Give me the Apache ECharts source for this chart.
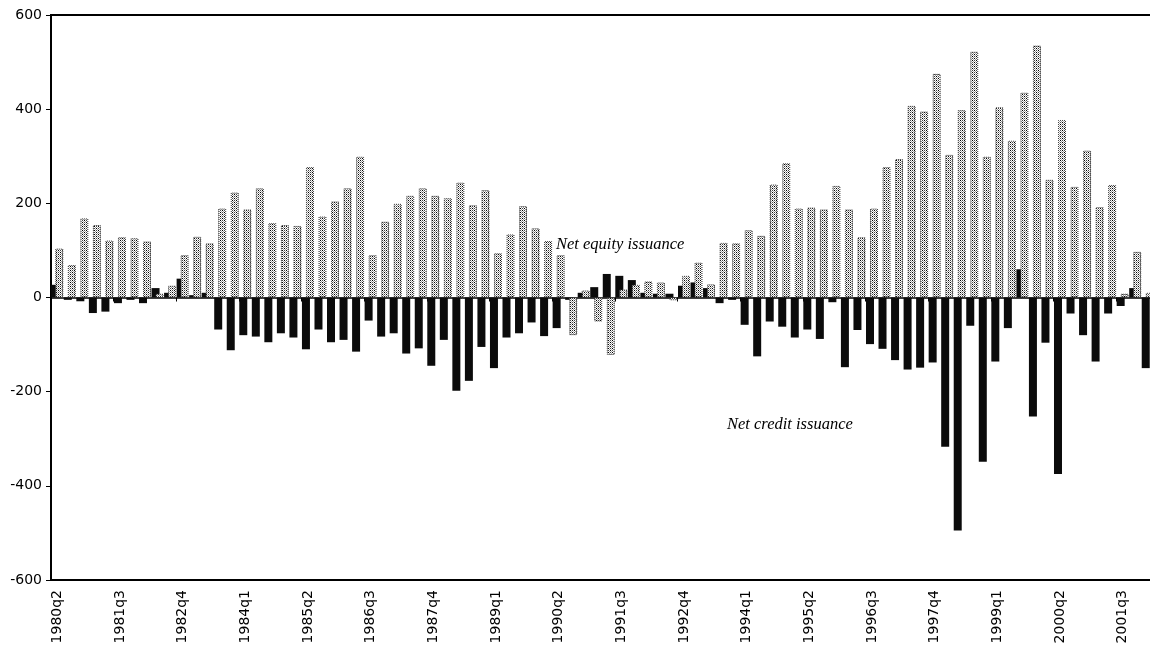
<!DOCTYPE html>
<html>
<head>
<meta charset="utf-8">
<script src="https://cdn.jsdelivr.net/npm/echarts@6/dist/echarts.min.js"></script>
<style>
html,body{margin:0;padding:0;background:#fff;overflow:hidden}
#chart{width:1150px;height:647px}
</style>
</head>
<body>
<div id="chart"></div>
<script>
// Quarters (categories)
const quarters = [
 '1980q2','1980q3','1980q4','1981q1','1981q2','1981q3','1981q4','1982q1','1982q2','1982q3','1982q4',
 '1983q1','1983q2','1983q3','1983q4','1984q1','1984q2','1984q3','1984q4','1985q1','1985q2','1985q3','1985q4',
 '1986q1','1986q2','1986q3','1986q4','1987q1','1987q2','1987q3','1987q4','1988q1','1988q2','1988q3','1988q4',
 '1989q1','1989q2','1989q3','1989q4','1990q1','1990q2','1990q3','1990q4','1991q1','1991q2','1991q3','1991q4',
 '1992q1','1992q2','1992q3','1992q4','1993q1','1993q2','1993q3','1993q4','1994q1','1994q2','1994q3','1994q4',
 '1995q1','1995q2','1995q3','1995q4','1996q1','1996q2','1996q3','1996q4','1997q1','1997q2','1997q3','1997q4',
 '1998q1','1998q2','1998q3','1998q4','1999q1','1999q2','1999q3','1999q4','2000q1','2000q2','2000q3','2000q4',
 '2001q1','2001q2','2001q3','2001q4','2002q1'
];

// Net credit issuance (black bars)
const netCredit = [
 27,-5,-8,-33,-30,-12,-5,-12,20,10,40,
 5,10,-68,-112,-80,-83,-95,-76,-85,-110,-68,-95,
 -90,-115,-49,-83,-76,-119,-108,-145,-90,-198,-177,-105,
 -150,-85,-76,-53,-82,-65,-5,10,22,50,46,37,
 10,8,8,25,32,20,-12,-5,-58,-125,-51,-62,
 -85,-68,-88,-10,-148,-69,-99,-109,-133,-153,-149,-138,
 -317,-495,-60,-349,-136,-65,60,-253,-96,-375,-34,-80,
 -136,-34,-18,20,-150
];

// Net equity issuance (grey dotted bars)
const netEquity = [
 104,69,168,154,121,128,126,119,8,25,90,
 129,115,189,223,187,232,158,154,152,277,172,204,
 232,299,90,161,199,216,232,216,211,244,196,228,
 94,134,194,147,120,90,-80,15,-51,-122,17,27,
 34,32,-6,46,74,28,116,115,143,131,240,285,
 189,191,187,237,187,128,189,277,294,407,395,475,
 303,398,522,299,404,333,435,535,250,377,235,312,
 192,239,8,97,10
];

// Value axis ticks
const yMin = -600, yMax = 600, yStep = 200;

// Annotation texts
const labelEquity = 'Net equity issuance';
const labelCredit = 'Net credit issuance';

function makeDotPattern() {
  const c = document.createElement('canvas');
  c.width = 4; c.height = 4;
  const g = c.getContext('2d');
  g.fillStyle = '#ffffff';
  g.fillRect(0, 0, 4, 4);
  const dots = [
    [0,0,'#000'],[2,2,'#000'],
    [2,0,'#444'],[0,2,'#444'],
    [1,1,'#999'],[3,3,'#999'],[1,3,'#aaa'],[3,1,'#aaa']
  ];
  dots.forEach(d => { g.fillStyle = d[2]; g.fillRect(d[0], d[1], 1, 1); });
  return c;
}

const chart = echarts.init(document.getElementById('chart'), null, {renderer: 'canvas'});
const axisFont = 'DejaVu Sans';

chart.setOption({
  animation: false,
  backgroundColor: '#ffffff',
  grid: {
    left: 51, top: 15, width: 1103, height: 565,
    containLabel: false, outerBoundsMode: 'none',
    show: true, borderColor: '#000', borderWidth: 2, backgroundColor: 'transparent'
  },
  xAxis: [
    {
      type: 'category', data: quarters, position: 'bottom',
      axisLine: {onZero: false, lineStyle: {color: '#000', width: 2}},
      axisTick: {show: false},
      axisLabel: {interval: 4, rotate: 90, fontFamily: axisFont, fontSize: 14, color: '#000', margin: 10},
      splitLine: {show: false}
    },
    {
      type: 'category', data: quarters, position: 'top',
      axisLine: {onZero: true, lineStyle: {color: '#000', width: 1.5}},
      axisTick: {show: true, inside: true, length: 4, lineStyle: {color: '#000', width: 1}},
      axisLabel: {show: false},
      splitLine: {show: false}
    }
  ],
  yAxis: {
    type: 'value', min: yMin, max: yMax, interval: yStep,
    axisLine: {show: true, lineStyle: {color: '#000', width: 2}},
    axisTick: {show: true, length: 5, lineStyle: {color: '#000'}},
    splitLine: {show: false},
    axisLabel: {fontFamily: axisFont, fontSize: 14, color: '#000', margin: 9}
  },
  series: [
    {
      name: labelCredit, type: 'bar', xAxisIndex: 0, data: netCredit,
      barWidth: 8, barGap: '-50%',
      itemStyle: {color: '#0b0b0b'}
    },
    {
      name: labelEquity, type: 'bar', xAxisIndex: 0, data: netEquity,
      barWidth: 8, barGap: '-50%',
      itemStyle: {color: {image: makeDotPattern(), repeat: 'repeat'},
                  borderColor: '#444', borderWidth: 1, borderType: 'dotted'}
    }
  ],
  graphic: [
    {type: 'text', left: 556, top: 236, z: 100,
     style: {text: labelEquity, font: 'italic 16.5px "Liberation Serif"', fill: '#000'}},
    {type: 'text', left: 727, top: 416, z: 100,
     style: {text: labelCredit, font: 'italic 16.5px "Liberation Serif"', fill: '#000'}}
  ]
});
</script>
</body>
</html>
